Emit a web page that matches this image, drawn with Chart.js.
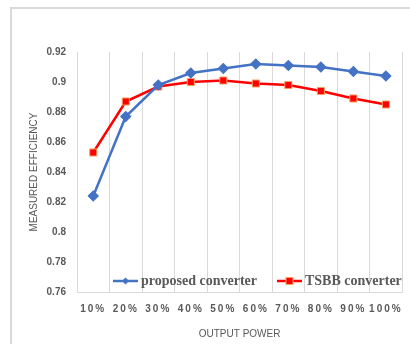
<!DOCTYPE html>
<html><head><meta charset="utf-8">
<script src="https://cdn.jsdelivr.net/npm/chart.js@4/dist/chart.umd.min.js"></script>
<style>
html,body{margin:0;padding:0;background:#fff;width:410px;height:344px;overflow:hidden;}
#frame{position:absolute;left:10px;top:7px;width:440px;height:380px;border:2px solid #d9d9d9;box-sizing:border-box;}
#wrap{position:absolute;left:0;top:0;width:410px;height:344px;}
</style></head>
<body>
<div id="frame"></div>
<div id="wrap"><canvas id="c" width="410" height="344"></canvas></div>
<script>
const categories = ['10%','20%','30%','40%','50%','60%','70%','80%','90%','100%'];
const proposedValues = [0.824,0.877,0.898,0.906,0.909,0.912,0.911,0.910,0.907,0.904];
const tsbbValues = [0.853,0.887,0.897,0.900,0.901,0.899,0.898,0.894,0.889,0.885];
const yTicks = [0.76,0.78,0.8,0.82,0.84,0.86,0.88,0.9,0.92];

class SpacedCategory extends Chart.CategoryScale {
  drawLabels(area){
    const ctx=this.ctx; ctx.save(); ctx.letterSpacing='2px'; super.drawLabels(area); ctx.restore();
  }
}
SpacedCategory.id='spacedCategory';
SpacedCategory.defaults=Chart.CategoryScale.defaults;
Chart.register(SpacedCategory);

const legendPlugin = {
  id:'inLegend',
  afterDatasetsDraw(chart){
    const ctx=chart.ctx;
    const y=281;
    const items=[{x:113},{x:277}];
    chart.data.datasets.forEach((ds,i)=>{
      const x0=items[i].x;
      ctx.save();
      ctx.strokeStyle=ds.borderColor; ctx.lineWidth=2.5;
      ctx.beginPath(); ctx.moveTo(x0,y); ctx.lineTo(x0+25,y); ctx.stroke();
      const cx=x0+12.5;
      ctx.fillStyle=ds.pointBackgroundColor; ctx.strokeStyle=ds.pointBorderColor; ctx.lineWidth=1;
      if(i===0){ctx.beginPath();ctx.moveTo(cx,y-3.5);ctx.lineTo(cx+3.5,y);ctx.lineTo(cx,y+3.5);ctx.lineTo(cx-3.5,y);ctx.closePath();ctx.fill();}
      else {ctx.fillRect(cx-3.5,y-3.5,7,7);ctx.strokeRect(cx-3.5,y-3.5,7,7);}
      ctx.fillStyle='#595959'; ctx.font='bold 14px "Liberation Serif"';
      ctx.textBaseline='middle'; ctx.textAlign='left';
      ctx.fillText(ds.label,x0+28,y);
      ctx.restore();
    });
  }
};

new Chart(document.getElementById('c'),{
  type:'line',
  data:{labels:categories,datasets:[
    {label:'proposed converter',data:proposedValues,borderColor:'#4472C4',backgroundColor:'#4472C4',
     pointBackgroundColor:'#4472C4',pointBorderColor:'#4472C4',pointStyle:'rectRot',pointRadius:4,borderWidth:2.5,tension:0},
    {label:'TSBB converter',data:tsbbValues,borderColor:'#FF0000',backgroundColor:'#FF0000',
     pointBackgroundColor:'#FF0000',pointBorderColor:'#F4A460',pointStyle:'rect',pointRadius:5,pointBorderWidth:1,borderWidth:2.5,tension:0}
  ]},
  options:{
    responsive:false,animation:false,
    layout:{padding:{left:0,top:52,right:5,bottom:0}},
    plugins:{legend:{display:false},tooltip:{enabled:false}},
    scales:{
      x:{type:'spacedCategory',offset:true,
        grid:{display:true,color:'#d9d9d9',lineWidth:1,offset:true,drawTicks:false},
        border:{display:true,color:'#d9d9d9'},
        ticks:{color:'#595959',font:{family:'"Liberation Sans"',size:10,weight:'bold'},padding:11,maxRotation:0,autoSkip:false},
        title:{display:true,text:'OUTPUT POWER',color:'#595959',font:{family:'"Liberation Sans"',size:10},padding:{top:5}},
        afterFit(s){s.height=52;}
      },
      y:{min:0.76,max:0.92,
        afterBuildTicks(s){s.ticks=yTicks.map(v=>({value:v}));},
        grid:{display:false,drawTicks:false},
        border:{display:false},
        ticks:{color:'#595959',font:{family:'"Liberation Sans"',size:10,weight:'bold'},padding:11,
          callback:v=>String(+v.toFixed(2))},
        title:{display:true,text:'MEASURED EFFICIENCY',color:'#595959',font:{family:'"Liberation Sans"',size:10},padding:{top:28,bottom:0}},
        afterFit(s){s.width=77;}
      }
    }
  },
  plugins:[legendPlugin]
});
</script>
</body></html>
